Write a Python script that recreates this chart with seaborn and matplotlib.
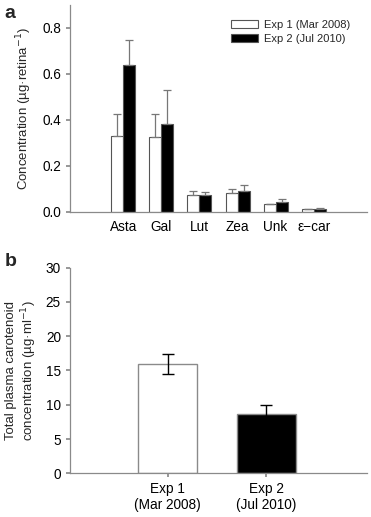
import numpy as np
import pandas as pd
import matplotlib
matplotlib.use("Agg")
import matplotlib.pyplot as plt
import matplotlib.patches as mpatches
import seaborn as sns

# ── data ─────────────────────────────────────────────────────────────────────
pigments = ["Asta", "Gal", "Lut", "Zea", "Unk", "ε\u2212car"]
exp_labels = ["Exp 1 (Mar 2008)", "Exp 2 (Jul 2010)"]
exp1_mean = [0.330, 0.326, 0.075, 0.082, 0.033, 0.012]
exp1_err = [0.098, 0.098, 0.016, 0.017, 0.003, 0.002]
exp2_mean = [0.639, 0.381, 0.075, 0.091, 0.044, 0.014]
exp2_err = [0.108, 0.148, 0.013, 0.025, 0.014, 0.002]

plasma_labels = ["Exp 1\n(Mar 2008)", "Exp 2\n(Jul 2010)"]
plasma_mean = [15.9, 8.7]
plasma_err = [1.45, 1.3]

# ── style ────────────────────────────────────────────────────────────────────
sns.set_theme(style="ticks")
plt.rcParams.update({
    "font.family": ["Liberation Sans", "DejaVu Sans"],
    "font.size": 9.5,
    "axes.edgecolor": "#8a8a8a",
    "axes.linewidth": 0.9,
    "xtick.color": "#8a8a8a",
    "ytick.color": "#8a8a8a",
    "xtick.labelcolor": "black",
    "ytick.labelcolor": "black",
    "xtick.labelsize": 9.8,
    "ytick.labelsize": 9.8,
    "ytick.major.size": 3,
    "xtick.major.size": 3,
})

fig = plt.figure(figsize=(3.71, 5.17), dpi=100)
ax_a = fig.add_axes([0.1887, 0.590, 0.8005, 0.4004])
ax_b = fig.add_axes([0.1887, 0.0845, 0.8005, 0.398])

# ── panel a ──────────────────────────────────────────────────────────────────
df_a = pd.DataFrame({
    "pigment": pigments * 2,
    "exp": [exp_labels[0]] * len(pigments) + [exp_labels[1]] * len(pigments),
    "conc": exp1_mean + exp2_mean,
})
sns.barplot(data=df_a, x="pigment", y="conc", hue="exp", order=pigments,
            hue_order=exp_labels, palette=["white", "black"], width=0.63,
            gap=0, errorbar=None, edgecolor="#555555", linewidth=0.8,
            legend=False, ax=ax_a)

# one-sided (upper) error bars
for cont, errs in zip(ax_a.containers, [exp1_err, exp2_err]):
    xs = [b.get_x() + b.get_width() / 2 for b in cont]
    ys = [b.get_height() for b in cont]
    ax_a.errorbar(xs, ys, yerr=[np.zeros(len(errs)), errs], fmt="none",
                  ecolor="#777777", elinewidth=0.9, capsize=3, capthick=0.9,
                  zorder=1)

ax_a.set_xlim(-1.4, 6.4)
ax_a.set_ylim(0, 0.9)
ax_a.set_yticks([0.0, 0.2, 0.4, 0.6, 0.8])
ax_a.set_yticklabels(["0.0", "0.2", "0.4", "0.6", "0.8"])
ax_a.tick_params(axis="x", length=0, pad=6)
ax_a.set_xlabel("")
ax_a.set_ylabel("Concentration (µg·retina$^{-1}$)", fontsize=9.5, labelpad=6)
sns.despine(ax=ax_a)

handles = [mpatches.Patch(facecolor=c, edgecolor="#555555", linewidth=0.8, label=l)
           for c, l in zip(["white", "black"], exp_labels)]
ax_a.legend(handles=handles, loc="upper right", bbox_to_anchor=(0.96, 0.95),
            frameon=False, fontsize=8, handlelength=2.4, handleheight=0.7,
            handletextpad=0.6, labelspacing=0.35, borderaxespad=0)

# ── panel b ──────────────────────────────────────────────────────────────────
df_b = pd.DataFrame({"exp": plasma_labels, "conc": plasma_mean})
sns.barplot(data=df_b, x="exp", y="conc", hue="exp", order=plasma_labels,
            palette=["white", "black"], width=0.6, errorbar=None,
            edgecolor="#8a8a8a", linewidth=1.0, legend=False, ax=ax_b)
bars_b = [p for c in ax_b.containers for p in c]
xs_b = [b.get_x() + b.get_width() / 2 for b in bars_b]
ax_b.errorbar(xs_b, plasma_mean, yerr=plasma_err, fmt="none", ecolor="black",
              elinewidth=1.0, capsize=4, capthick=1.0, zorder=3)

ax_b.set_xlim(-0.99, 2.02)
ax_b.set_ylim(0, 30)
ax_b.set_yticks(range(0, 31, 5))
ax_b.tick_params(axis="x", length=3, pad=3)
ax_b.set_xlabel("")
ax_b.set_ylabel("Total plasma carotenoid\nconcentration (µg·ml$^{-1}$)",
                fontsize=9.5, labelpad=5)
sns.despine(ax=ax_b)

# panel letters
fig.text(0.013, 0.973, "a", fontsize=14, fontweight="bold", va="center")
fig.text(0.013, 0.495, "b", fontsize=14, fontweight="bold", va="center")

fig.savefig("out.png", dpi=100)
